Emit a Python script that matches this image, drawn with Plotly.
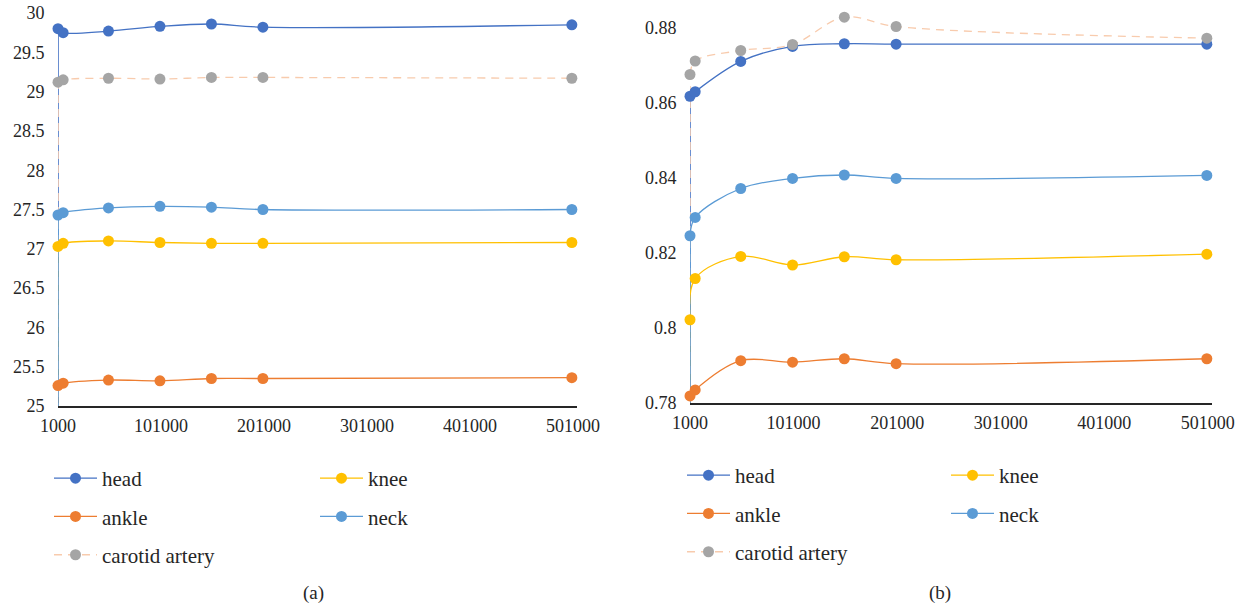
import plotly.graph_objects as go

# ---------------- data ----------------
x_vals = [1000, 6000, 50000, 100000, 150000, 200000, 500000]
x_tick_vals = [1000, 101000, 201000, 301000, 401000, 501000]
base_value = 0  # series start from zero before the first sample (drawn as drop lines)

# panel (a)
a_head = [29.80, 29.75, 29.77, 29.83, 29.86, 29.82, 29.85]
a_knee = [27.03, 27.07, 27.10, 27.08, 27.07, 27.07, 27.08]
a_ankle = [25.26, 25.29, 25.33, 25.32, 25.35, 25.35, 25.36]
a_neck = [27.43, 27.46, 27.52, 27.54, 27.53, 27.50, 27.50]
a_carotid = [29.12, 29.15, 29.17, 29.16, 29.18, 29.18, 29.17]

# panel (b)
b_head = [0.8618, 0.8630, 0.8711, 0.8751, 0.8758, 0.8757, 0.8757]
b_knee = [0.8022, 0.8132, 0.8191, 0.8168, 0.8190, 0.8182, 0.8197]
b_ankle = [0.7819, 0.7835, 0.7913, 0.7909, 0.7918, 0.7905, 0.7918]
b_neck = [0.8246, 0.8295, 0.8372, 0.8399, 0.8408, 0.8399, 0.8407]
b_carotid = [0.8676, 0.8712, 0.8740, 0.8756, 0.8829, 0.8804, 0.8773]

line_colors = {"head": "#4472C4", "knee": "#FFC000", "ankle": "#ED7D31",
               "neck": "#5B9BD5", "carotid artery": "#F8CBAD"}
marker_colors = {"head": "#4472C4", "knee": "#FFC000", "ankle": "#ED7D31",
                 "neck": "#5B9BD5", "carotid artery": "#A5A5A5"}
dashes = {"head": "solid", "knee": "solid", "ankle": "solid", "neck": "solid",
          "carotid artery": "8px,6px"}

panel_a = {"head": a_head, "knee": a_knee, "ankle": a_ankle, "neck": a_neck, "carotid artery": a_carotid}
panel_b = {"head": b_head, "knee": b_knee, "ankle": b_ankle, "neck": b_neck, "carotid artery": b_carotid}

FONT = "Liberation Serif"
W, H = 1246, 610

fig = go.Figure()

legend_cols = {
    "a": {"head": "legend", "ankle": "legend", "carotid artery": "legend", "knee": "legend2", "neck": "legend2"},
    "b": {"head": "legend3", "ankle": "legend3", "carotid artery": "legend3", "knee": "legend4", "neck": "legend4"},
}
legend_rank = {"head": 1, "ankle": 2, "carotid artery": 3, "knee": 1, "neck": 2}

drop_order = ["head", "knee", "ankle", "carotid artery", "neck"]

for key, data, xa, ya in [("a", panel_a, "x", "y"), ("b", panel_b, "x2", "y2")]:
    # drop lines from the base value to the first sample
    for nm in drop_order:
        fig.add_trace(go.Scatter(
            x=[x_vals[0], x_vals[0]], y=[base_value, data[nm][0]], mode="lines",
            line=dict(color=line_colors[nm], width=1.6, dash=dashes[nm]),
            showlegend=False, hoverinfo="skip", xaxis=xa, yaxis=ya))
    for nm in drop_order:
        fig.add_trace(go.Scatter(
            x=x_vals, y=data[nm], mode="lines+markers", name=nm,
            line=dict(color=line_colors[nm], width=1.3, dash=dashes[nm], shape="spline", smoothing=1.0),
            marker=dict(color=marker_colors[nm], size=11),
            cliponaxis=False,
            legend=legend_cols[key][nm], legendgroup=key + nm, legendrank=legend_rank[nm],
            xaxis=xa, yaxis=ya))

def px_x(p):
    return p / W

def px_y(p):
    return 1 - p / H

axis_font = dict(family=FONT, size=18, color="#262626")

xcommon = dict(range=[1000, 505000], tickvals=x_tick_vals, ticktext=[str(v) for v in x_tick_vals],
               showgrid=False, zeroline=False, showline=True, linecolor="#262626", linewidth=1.5,
               ticks="outside", ticklen=3, tickcolor="rgba(0,0,0,0)", tickfont=axis_font,
               automargin=False)

ycommon = dict(showgrid=False, zeroline=False, showline=False,
               ticks="outside", ticklen=9, tickcolor="rgba(0,0,0,0)", tickfont=axis_font,
               automargin=False)

fig.update_layout(
    width=W, height=H,
    paper_bgcolor="white", plot_bgcolor="white",
    margin=dict(l=0, r=0, t=0, b=0, autoexpand=False),
    font=dict(family=FONT, size=18, color="#262626"),
    xaxis=dict(domain=[px_x(58), px_x(577)], anchor="y", **xcommon),
    yaxis=dict(domain=[px_y(406), px_y(13)], anchor="x", range=[25, 30], dtick=0.5, **ycommon),
    xaxis2=dict(domain=[px_x(690), px_x(1212)], anchor="y2", **xcommon),
    yaxis2=dict(domain=[px_y(403), px_y(9.25)], anchor="x2", range=[0.78, 0.885],
                tickvals=[0.78, 0.80, 0.82, 0.84, 0.86, 0.88],
                ticktext=["0.78", "0.8", "0.82", "0.84", "0.86", "0.88"], **ycommon),
)

leg_common = dict(orientation="v", xanchor="left", yanchor="top", bgcolor="rgba(0,0,0,0)",
                  font=dict(family=FONT, size=21, color="#262626"), tracegroupgap=8, itemwidth=43)
fig.update_layout(
    legend=dict(x=px_x(49), y=px_y(458), **leg_common),
    legend2=dict(x=px_x(315), y=px_y(458), **leg_common),
    legend3=dict(x=px_x(682), y=px_y(455), **leg_common),
    legend4=dict(x=px_x(946), y=px_y(455), **leg_common),
)

fig.add_annotation(text="(a)", x=px_x(313), y=px_y(593), xref="paper", yref="paper",
                   xanchor="center", yanchor="middle",
                   showarrow=False, font=dict(family=FONT, size=19, color="#262626"))
fig.add_annotation(text="(b)", x=px_x(940), y=px_y(593), xref="paper", yref="paper",
                   xanchor="center", yanchor="middle",
                   showarrow=False, font=dict(family=FONT, size=19, color="#262626"))

fig.write_html("out.html", config={"displayModeBar": False},
               post_script="document.body.style.margin='0px';document.body.style.overflow='hidden';")
